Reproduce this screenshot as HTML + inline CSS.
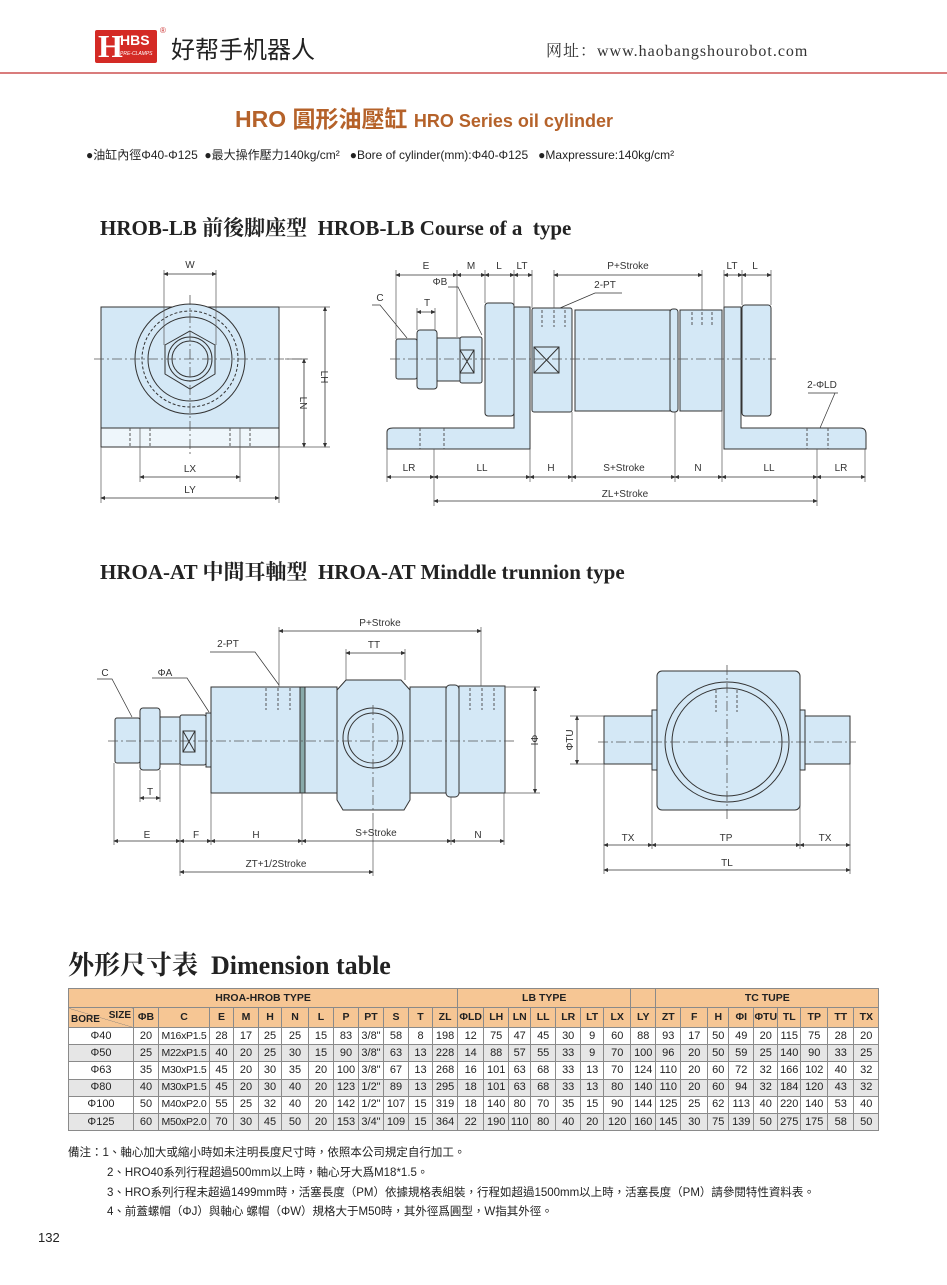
<!DOCTYPE html>
<html><head><meta charset="utf-8">
<style>
*{margin:0;padding:0;box-sizing:border-box}
body{width:947px;height:1285px;background:#fff;position:relative;overflow:hidden;font-family:"Liberation Sans","Noto Sans CJK TC",sans-serif;color:#222}
.abs{position:absolute;white-space:nowrap}
table{position:absolute;left:68px;top:988px;border-collapse:collapse;table-layout:fixed;width:810px;font-size:11px}
td{border:1px solid #8a8a8a;text-align:center;height:17.2px;padding:0;line-height:15px;overflow:hidden;white-space:nowrap}
tr.h td{background:#f6c694;font-weight:bold;font-size:10.5px}
tr.g td{background:#e6e6e6}
td.c{font-size:10.5px;letter-spacing:-0.3px}
.note{font-size:11.5px;font-family:"Liberation Sans","Noto Sans CJK TC",sans-serif}
</style></head><body>
<div class="abs" style="left:95px;top:30px;width:62px;height:33px;background:#d42a25;border-radius:2px"></div>
<div class="abs" style="left:98px;top:29px;color:#fff;font:bold 32px 'Liberation Serif',serif;line-height:34px">H</div>
<div class="abs" style="left:120px;top:32px;color:#fff;font:bold 14px 'Liberation Sans',sans-serif">HBS</div>
<div class="abs" style="left:120px;top:51px;color:#fff;font:italic 5px 'Liberation Sans',sans-serif">PRE-CLAMPS</div>
<div class="abs" style="left:160px;top:26px;font-size:8px;color:#c33">®</div>
<div class="abs" style="left:171px;top:34px;font:24px 'Noto Sans CJK SC',sans-serif;color:#222;line-height:28px">好帮手机器人</div>
<div class="abs" style="left:546px;top:38px;font:16px 'Liberation Serif','Noto Serif CJK SC',serif;color:#333;letter-spacing:1px">网址：www.haobangshourobot.com</div>
<div class="abs" style="left:0;top:72px;width:947px;height:2px;background:#d97c7c"></div>
<div class="abs" style="left:235px;top:100px;font:bold 23px 'Liberation Sans','Noto Sans CJK TC',sans-serif;color:#b5622a">HRO 圓形油壓缸 <span style="font-size:18px">HRO Series oil cylinder</span></div>
<div class="abs" style="left:86px;top:146px;font-size:12px;color:#222">●油缸內徑Φ40-Φ125 &nbsp;●最大操作壓力140kg/cm² &nbsp; ●Bore of cylinder(mm):Φ40-Φ125 &nbsp; ●Maxpressure:140kg/cm²</div>
<div class="abs" style="left:100px;top:212px;font:bold 21px 'Liberation Serif','Noto Serif CJK SC',serif;color:#222">HROB-LB 前後脚座型&nbsp; HROB-LB Course of a&nbsp; type</div>
<div class="abs" style="left:100px;top:556px;font:bold 21px 'Liberation Serif','Noto Serif CJK SC',serif;color:#222">HROA-AT 中間耳軸型&nbsp; HROA-AT Minddle trunnion type</div>
<div class="abs" style="left:68px;top:945px;font:bold 26px 'Liberation Serif','Noto Serif CJK SC',serif;color:#222">外形尺寸表&nbsp; Dimension table</div>

<svg class="abs" style="left:0;top:0" width="947" height="1285" viewBox="0 0 947 1285" font-family="Liberation Sans, sans-serif" font-size="10" fill="none" stroke="#333" stroke-width="1">
<defs><marker id="a" markerWidth="6" markerHeight="6" refX="5" refY="3" orient="auto-start-reverse"><path d="M0,0.5L6,3L0,5.5z" fill="#333" stroke="none"/></marker></defs>
<g fill="#d4e8f6">
<!-- LB front -->
<rect x="101" y="307" width="178" height="121"/>
<rect x="101" y="428" width="178" height="19" fill="#eef6fb"/>
<circle cx="190" cy="359" r="55"/>
<circle cx="190" cy="359" r="48" stroke-dasharray="3,2"/>
<circle cx="190" cy="359" r="42"/>
<polygon points="190,331 215,345 215,374 190,389 165,374 165,345"/>
<circle cx="190" cy="359" r="22"/><circle cx="190" cy="359" r="18"/>
<!-- LB side -->
<path d="M387,432 Q387,428 393,428 L514,428 L514,307 L530,307 L530,449 L387,449 Z"/>
<path d="M724,449 L724,307 L741,307 L741,428 L860,428 Q866,428 866,434 L866,449 Z"/>
<rect x="485" y="303" width="29" height="113" rx="3"/>
<rect x="742" y="305" width="29" height="111" rx="3"/>
<rect x="532" y="308" width="40" height="104" rx="2"/>
<rect x="575" y="310" width="95" height="101"/>
<rect x="670" y="309" width="8" height="103" rx="3"/>
<rect x="680" y="310" width="42" height="101"/>
<rect x="460" y="337" width="22" height="46" rx="2"/>
<rect x="437" y="338" width="23" height="43"/>
<rect x="417" y="330" width="20" height="59" rx="3"/>
<rect x="396" y="339" width="21" height="40" rx="2"/>
<!-- AT side -->
<rect x="115" y="718" width="25" height="45" rx="2"/>
<rect x="140" y="708" width="20" height="62" rx="3"/>
<rect x="160" y="717" width="20" height="47"/>
<rect x="180" y="715" width="26" height="50" rx="2"/>
<rect x="206" y="713" width="5" height="54"/>
<rect x="211" y="687" width="89" height="106"/>
<rect x="300" y="687" width="5" height="106" fill="#8aa"/>
<rect x="305" y="687" width="32" height="106"/>
<path d="M346,680 L401,680 L410,690 L410,800 L404,810 L343,810 L337,800 L337,690 Z"/>
<rect x="410" y="687" width="36" height="106"/>
<rect x="446" y="685" width="13" height="112" rx="4"/>
<rect x="459" y="686" width="46" height="107"/>
<circle cx="373" cy="738" r="30"/><circle cx="373" cy="738" r="25"/>
<!-- AT end -->
<rect x="604" y="716" width="48" height="48"/>
<rect x="652" y="710" width="5" height="60"/>
<rect x="802" y="716" width="48" height="48"/>
<rect x="800" y="710" width="5" height="60"/>
<rect x="657" y="671" width="143" height="139" rx="5"/>
<ellipse cx="727" cy="742" rx="62" ry="60"/>
<ellipse cx="727" cy="742" rx="55" ry="54"/>
</g>
<g stroke-dasharray="3,2" stroke="#555">
<line x1="130" y1="428" x2="130" y2="447"/><line x1="150" y1="428" x2="150" y2="447"/><line x1="230" y1="428" x2="230" y2="447"/><line x1="250" y1="428" x2="250" y2="447"/>
<line x1="420" y1="428" x2="420" y2="449"/><line x1="444" y1="428" x2="444" y2="449"/>
<line x1="807" y1="428" x2="807" y2="449"/><line x1="828" y1="428" x2="828" y2="449"/>
<line x1="542" y1="310" x2="542" y2="327"/><line x1="554" y1="310" x2="554" y2="327"/><line x1="565" y1="310" x2="565" y2="327"/>
<line x1="692" y1="312" x2="692" y2="327"/><line x1="702" y1="312" x2="702" y2="327"/><line x1="712" y1="312" x2="712" y2="327"/>
<line x1="266" y1="688" x2="266" y2="710"/><line x1="278" y1="688" x2="278" y2="710"/><line x1="290" y1="688" x2="290" y2="710"/>
<line x1="470" y1="688" x2="470" y2="710"/><line x1="482" y1="688" x2="482" y2="710"/><line x1="494" y1="688" x2="494" y2="710"/>
<line x1="716" y1="690" x2="716" y2="712"/><line x1="737" y1="690" x2="737" y2="712"/>
</g>
<g stroke-dasharray="10,3,2,3" stroke="#555" stroke-width="0.8">
<line x1="94" y1="359" x2="310" y2="359"/><line x1="190" y1="295" x2="190" y2="455"/>
<line x1="390" y1="359" x2="776" y2="359"/>
<line x1="108" y1="741" x2="515" y2="741"/><line x1="373" y1="705" x2="373" y2="820"/>
<line x1="598" y1="742" x2="856" y2="742"/><line x1="727" y1="665" x2="727" y2="820"/>
</g>
<rect x="460" y="350" width="14" height="23"/><path d="M460,350L474,373M474,350L460,373"/>
<rect x="534" y="347" width="25" height="26"/><path d="M534,347L559,373M559,347L534,373"/>
<rect x="183" y="731" width="12" height="21"/><path d="M183,731L195,752M195,731L183,752"/>
<g stroke="#555" stroke-width="0.7">
<line x1="164" y1="270" x2="164" y2="345"/><line x1="216" y1="270" x2="216" y2="345"/>
<line x1="140" y1="428" x2="140" y2="482"/><line x1="240" y1="428" x2="240" y2="482"/>
<line x1="101" y1="447" x2="101" y2="503"/><line x1="279" y1="447" x2="279" y2="503"/>
<line x1="279" y1="307" x2="330" y2="307"/><line x1="279" y1="447" x2="330" y2="447"/><line x1="285" y1="359" x2="308" y2="359"/>
<line x1="396" y1="270" x2="396" y2="339"/><line x1="457" y1="270" x2="457" y2="337"/><line x1="485" y1="270" x2="485" y2="303"/><line x1="514" y1="270" x2="514" y2="307"/><line x1="532" y1="270" x2="532" y2="308"/>
<line x1="554" y1="270" x2="554" y2="308"/><line x1="702" y1="270" x2="702" y2="310"/><line x1="724" y1="270" x2="724" y2="307"/><line x1="742" y1="270" x2="742" y2="305"/><line x1="771" y1="270" x2="771" y2="305"/>
<line x1="387" y1="449" x2="387" y2="482"/><line x1="434" y1="449" x2="434" y2="506"/><line x1="530" y1="449" x2="530" y2="482"/><line x1="572" y1="412" x2="572" y2="482"/><line x1="675" y1="412" x2="675" y2="482"/><line x1="722" y1="411" x2="722" y2="482"/><line x1="817" y1="449" x2="817" y2="506"/><line x1="865" y1="449" x2="865" y2="482"/>
<line x1="417" y1="308" x2="417" y2="330"/><line x1="435" y1="308" x2="435" y2="330"/>
<line x1="279" y1="627" x2="279" y2="687"/><line x1="481" y1="627" x2="481" y2="686"/>
<line x1="346" y1="649" x2="346" y2="680"/><line x1="405" y1="649" x2="405" y2="680"/>
<line x1="505" y1="687" x2="540" y2="687"/><line x1="505" y1="793" x2="540" y2="793"/>
<line x1="114" y1="763" x2="114" y2="845"/><line x1="180" y1="765" x2="180" y2="876"/><line x1="211" y1="793" x2="211" y2="845"/><line x1="302" y1="793" x2="302" y2="845"/><line x1="451" y1="797" x2="451" y2="845"/><line x1="504" y1="793" x2="504" y2="845"/><line x1="373" y1="820" x2="373" y2="876"/>
<line x1="140" y1="770" x2="140" y2="802"/><line x1="160" y1="770" x2="160" y2="802"/>
<line x1="570" y1="716" x2="604" y2="716"/><line x1="570" y1="764" x2="604" y2="764"/>
<line x1="604" y1="764" x2="604" y2="874"/><line x1="652" y1="770" x2="652" y2="849"/><line x1="800" y1="770" x2="800" y2="849"/><line x1="850" y1="764" x2="850" y2="874"/>
</g>
<g marker-start="url(#a)" marker-end="url(#a)" stroke-width="0.8">
<line x1="164" y1="274" x2="216" y2="274"/><line x1="140" y1="477" x2="240" y2="477"/><line x1="101" y1="498" x2="279" y2="498"/>
<line x1="304" y1="359" x2="304" y2="447"/><line x1="325" y1="307" x2="325" y2="447"/>
<line x1="396" y1="275" x2="457" y2="275"/><line x1="457" y1="275" x2="485" y2="275"/><line x1="485" y1="275" x2="514" y2="275"/><line x1="514" y1="275" x2="532" y2="275"/>
<line x1="554" y1="275" x2="702" y2="275"/><line x1="724" y1="275" x2="742" y2="275"/><line x1="742" y1="275" x2="771" y2="275"/>
<line x1="417" y1="312" x2="435" y2="312"/>
<line x1="387" y1="477" x2="434" y2="477"/><line x1="434" y1="477" x2="530" y2="477"/><line x1="530" y1="477" x2="572" y2="477"/><line x1="572" y1="477" x2="675" y2="477"/><line x1="675" y1="477" x2="722" y2="477"/><line x1="722" y1="477" x2="817" y2="477"/><line x1="817" y1="477" x2="865" y2="477"/>
<line x1="434" y1="501" x2="817" y2="501"/>
<line x1="279" y1="631" x2="481" y2="631"/><line x1="346" y1="653" x2="405" y2="653"/>
<line x1="535" y1="687" x2="535" y2="793"/>
<line x1="140" y1="798" x2="160" y2="798"/>
<line x1="114" y1="841" x2="180" y2="841"/><line x1="180" y1="841" x2="211" y2="841"/><line x1="211" y1="841" x2="302" y2="841"/><line x1="302" y1="841" x2="451" y2="841"/><line x1="451" y1="841" x2="504" y2="841"/>
<line x1="180" y1="872" x2="373" y2="872"/>
<line x1="577" y1="716" x2="577" y2="764"/>
<line x1="604" y1="845" x2="652" y2="845"/><line x1="652" y1="845" x2="800" y2="845"/><line x1="800" y1="845" x2="850" y2="845"/><line x1="604" y1="870" x2="850" y2="870"/>
</g>
<g stroke-width="0.7">
<path d="M372,305 L380,305 L407,338"/><path d="M448,287 L458,287 L482,335"/><path d="M622,293 L595,293 L560,308"/><path d="M835,393 L820,428"/><path d="M808,393 L838,393"/>
<path d="M97,679 L112,679 L132,717"/><path d="M152,678 L187,678 L209,712"/><path d="M210,652 L255,652 L279,685"/>
</g>
<g fill="#333" stroke="none" font-size="10" text-anchor="middle">
<text x="190" y="268">W</text><text x="190" y="472">LX</text><text x="190" y="493">LY</text>
<text x="300" y="403" transform="rotate(90 300 403)">LN</text><text x="321" y="377" transform="rotate(90 321 377)">LH</text>
<text x="426" y="269">E</text><text x="471" y="269">M</text><text x="499" y="269">L</text><text x="522" y="269">LT</text><text x="628" y="269">P+Stroke</text><text x="732" y="269">LT</text><text x="755" y="269">L</text>
<text x="380" y="301">C</text><text x="440" y="285">ΦB</text><text x="427" y="306">T</text><text x="605" y="288">2-PT</text><text x="822" y="388">2-ΦLD</text>
<text x="409" y="471">LR</text><text x="482" y="471">LL</text><text x="551" y="471">H</text><text x="624" y="471">S+Stroke</text><text x="698" y="471">N</text><text x="769" y="471">LL</text><text x="841" y="471">LR</text>
<text x="625" y="497">ZL+Stroke</text>
<text x="380" y="626">P+Stroke</text><text x="374" y="648">TT</text><text x="228" y="647">2-PT</text><text x="105" y="676">C</text><text x="165" y="676">ΦA</text>
<text x="531" y="740" transform="rotate(90 531 740)">ΦI</text><text x="150" y="795">T</text>
<text x="147" y="838">E</text><text x="196" y="838">F</text><text x="256" y="838">H</text><text x="376" y="836">S+Stroke</text><text x="478" y="838">N</text>
<text x="276" y="867">ZT+1/2Stroke</text>
<text x="573" y="740" transform="rotate(-90 573 740)">ΦTU</text>
<text x="628" y="841">TX</text><text x="726" y="841">TP</text><text x="825" y="841">TX</text><text x="727" y="866">TL</text>
</g>
</svg>

<table>
<colgroup>
<col style="width:65px"><col style="width:25px"><col style="width:51px"><col style="width:24px"><col style="width:25px"><col style="width:23px"><col style="width:27px"><col style="width:25px"><col style="width:25px"><col style="width:25px"><col style="width:25px"><col style="width:24px"><col style="width:25px">
<col style="width:26px"><col style="width:25px"><col style="width:22px"><col style="width:25px"><col style="width:25px"><col style="width:23px"><col style="width:27px">
<col style="width:25px">
<col style="width:25px"><col style="width:27px"><col style="width:21px"><col style="width:25px"><col style="width:24px"><col style="width:23px"><col style="width:27px"><col style="width:26px"><col style="width:25px">
</colgroup>
<tr class="h" style="height:19px"><td colspan="13">HROA-HROB TYPE</td><td colspan="7">LB TYPE</td><td></td><td colspan="9">TC TUPE</td></tr>
<tr class="h" style="height:20px"><td style="position:relative;background:linear-gradient(to top right,#f6c694 49%,#777 50%,#f6c694 51%)"><span style="position:absolute;left:2px;bottom:0;font-size:10px">BORE</span><span style="position:absolute;right:2px;top:0;font-size:10px">SIZE</span></td><td>ΦB</td><td>C</td><td>E</td><td>M</td><td>H</td><td>N</td><td>L</td><td>P</td><td>PT</td><td>S</td><td>T</td><td>ZL</td><td>ΦLD</td><td>LH</td><td>LN</td><td>LL</td><td>LR</td><td>LT</td><td>LX</td><td>LY</td><td>ZT</td><td>F</td><td>H</td><td>ΦI</td><td>ΦTU</td><td>TL</td><td>TP</td><td>TT</td><td>TX</td></tr>
<tr><td>Φ40</td><td>20</td><td class="c">M16xP1.5</td><td>28</td><td>17</td><td>25</td><td>25</td><td>15</td><td>83</td><td>3/8"</td><td>58</td><td>8</td><td>198</td><td>12</td><td>75</td><td>47</td><td>45</td><td>30</td><td>9</td><td>60</td><td>88</td><td>93</td><td>17</td><td>50</td><td>49</td><td>20</td><td>115</td><td>75</td><td>28</td><td>20</td></tr>
<tr class="g"><td>Φ50</td><td>25</td><td class="c">M22xP1.5</td><td>40</td><td>20</td><td>25</td><td>30</td><td>15</td><td>90</td><td>3/8"</td><td>63</td><td>13</td><td>228</td><td>14</td><td>88</td><td>57</td><td>55</td><td>33</td><td>9</td><td>70</td><td>100</td><td>96</td><td>20</td><td>50</td><td>59</td><td>25</td><td>140</td><td>90</td><td>33</td><td>25</td></tr>
<tr><td>Φ63</td><td>35</td><td class="c">M30xP1.5</td><td>45</td><td>20</td><td>30</td><td>35</td><td>20</td><td>100</td><td>3/8"</td><td>67</td><td>13</td><td>268</td><td>16</td><td>101</td><td>63</td><td>68</td><td>33</td><td>13</td><td>70</td><td>124</td><td>110</td><td>20</td><td>60</td><td>72</td><td>32</td><td>166</td><td>102</td><td>40</td><td>32</td></tr>
<tr class="g"><td>Φ80</td><td>40</td><td class="c">M30xP1.5</td><td>45</td><td>20</td><td>30</td><td>40</td><td>20</td><td>123</td><td>1/2"</td><td>89</td><td>13</td><td>295</td><td>18</td><td>101</td><td>63</td><td>68</td><td>33</td><td>13</td><td>80</td><td>140</td><td>110</td><td>20</td><td>60</td><td>94</td><td>32</td><td>184</td><td>120</td><td>43</td><td>32</td></tr>
<tr><td>Φ100</td><td>50</td><td class="c">M40xP2.0</td><td>55</td><td>25</td><td>32</td><td>40</td><td>20</td><td>142</td><td>1/2"</td><td>107</td><td>15</td><td>319</td><td>18</td><td>140</td><td>80</td><td>70</td><td>35</td><td>15</td><td>90</td><td>144</td><td>125</td><td>25</td><td>62</td><td>113</td><td>40</td><td>220</td><td>140</td><td>53</td><td>40</td></tr>
<tr class="g"><td>Φ125</td><td>60</td><td class="c">M50xP2.0</td><td>70</td><td>30</td><td>45</td><td>50</td><td>20</td><td>153</td><td>3/4"</td><td>109</td><td>15</td><td>364</td><td>22</td><td>190</td><td>110</td><td>80</td><td>40</td><td>20</td><td>120</td><td>160</td><td>145</td><td>30</td><td>75</td><td>139</td><td>50</td><td>275</td><td>175</td><td>58</td><td>50</td></tr>
</table>

<div class="abs note" style="left:68px;top:1144px">備注：1、軸心加大或縮小時如未注明長度尺寸時，依照本公司規定自行加工。</div>
<div class="abs note" style="left:107px;top:1164px">2、HRO40系列行程超過500mm以上時，軸心牙大爲M18*1.5。</div>
<div class="abs note" style="left:107px;top:1184px">3、HRO系列行程未超過1499mm時，活塞長度（PM）依據規格表組裝，行程如超過1500mm以上時，活塞長度（PM）請參閱特性資料表。</div>
<div class="abs note" style="left:107px;top:1203px">4、前蓋螺帽（ΦJ）與軸心 螺帽（ΦW）規格大于M50時，其外徑爲圓型，W指其外徑。</div>
<div class="abs" style="left:38px;top:1230px;font-size:13px">132</div>
</body></html>
